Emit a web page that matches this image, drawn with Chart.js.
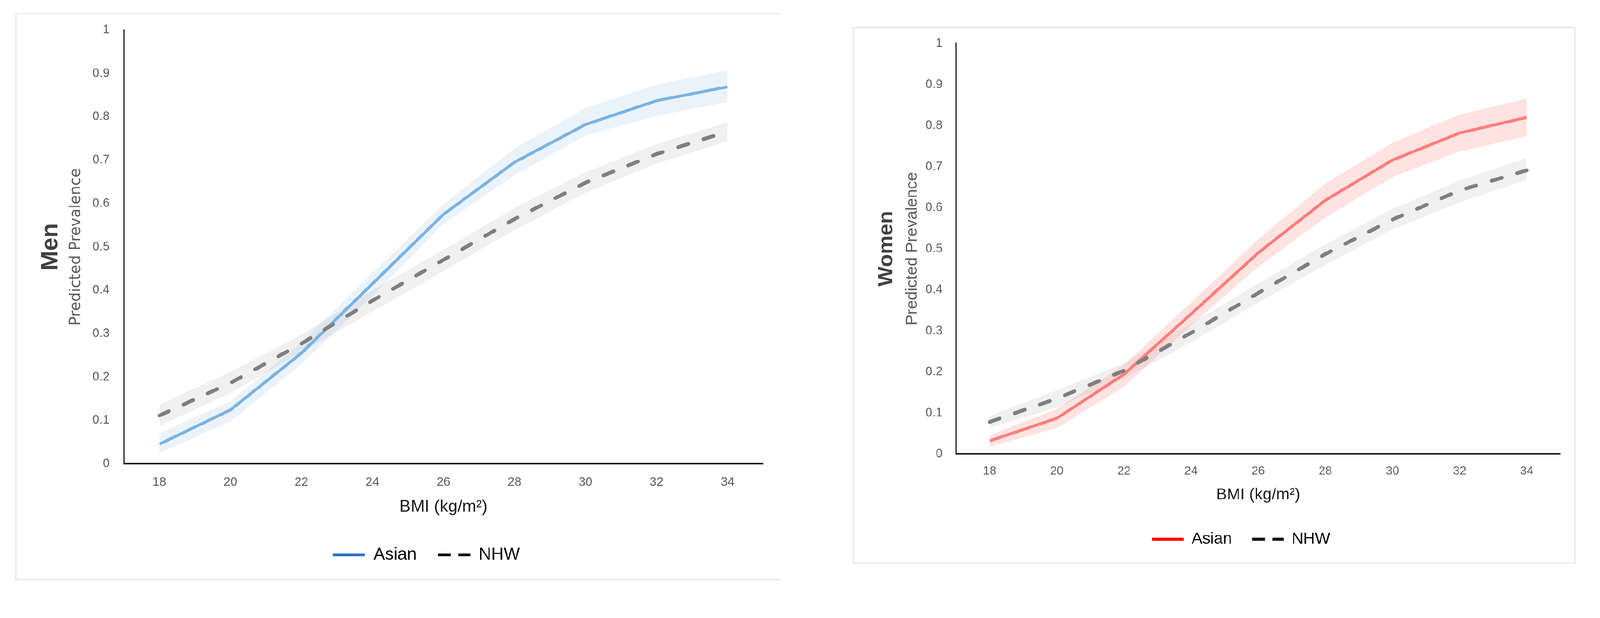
<!DOCTYPE html>
<html>
<head>
<meta charset="utf-8">
<script src="https://cdn.jsdelivr.net/npm/chart.js@4.4.1/dist/chart.umd.min.js"></script>
<style>
  html, body { margin: 0; padding: 0; background: #fff; overflow: hidden; }
  #stage { width: 4271px; height: 1581px; position: absolute; left: 0; top: 0; transform-origin: 0 0; }
  .frame { position: absolute; border: 3px solid #e4e4e4; box-sizing: border-box; }
  #menFrame { left: 41px; top: 35px; width: 2040px; height: 1512px; border-right: none; }
  #womenFrame { left: 2276px; top: 72px; width: 1929px; height: 1432px; }
  canvas { position: absolute; }
  #menChart { left: 42px; top: 36px; }
  #womenChart { left: 2277px; top: 73px; }
</style>
</head>
<body>
<div id="stage">
  <div class="frame" id="menFrame"></div>
  <div class="frame" id="womenFrame"></div>
  <canvas id="menChart" width="2192" height="1477"></canvas>
  <canvas id="womenChart" width="2072" height="1397"></canvas>
</div>
<script>
// categories and tick labels
const bmiLabels = ["18", "20", "22", "24", "26", "28", "30", "32", "34"];
const yTickLabels = ["0", "0.1", "0.2", "0.3", "0.4", "0.5", "0.6", "0.7", "0.8", "0.9", "1"];

// Men
const menAsian      = [0.045, 0.124, 0.255, 0.415, 0.575, 0.695, 0.782, 0.837, 0.869];
const menAsianUpper = [0.070, 0.144, 0.280, 0.440, 0.598, 0.727, 0.820, 0.874, 0.907];
const menAsianLower = [0.025, 0.097, 0.230, 0.387, 0.553, 0.665, 0.757, 0.802, 0.834];
const menNhw        = [0.111, 0.186, 0.277, 0.376, 0.470, 0.564, 0.648, 0.714, 0.766];
const menNhwUpper   = [0.136, 0.212, 0.297, 0.400, 0.493, 0.589, 0.672, 0.737, 0.787];
const menNhwLower   = [0.087, 0.163, 0.257, 0.351, 0.444, 0.539, 0.625, 0.692, 0.744];

// Women
const womenAsian      = [0.032, 0.087, 0.194, 0.341, 0.490, 0.618, 0.716, 0.782, 0.820];
const womenAsianUpper = [0.046, 0.110, 0.217, 0.369, 0.523, 0.659, 0.758, 0.827, 0.866];
const womenAsianLower = [0.018, 0.063, 0.164, 0.313, 0.456, 0.576, 0.675, 0.737, 0.774];
const womenNhw        = [0.078, 0.135, 0.203, 0.295, 0.392, 0.487, 0.571, 0.642, 0.691];
const womenNhwUpper   = [0.093, 0.155, 0.221, 0.318, 0.415, 0.511, 0.597, 0.666, 0.721];
const womenNhwLower   = [0.064, 0.113, 0.184, 0.272, 0.369, 0.461, 0.547, 0.613, 0.668];

// the layout below is in 4271px page units; fit it to whatever the window really is
const k = window.innerWidth / 4271;
document.getElementById("stage").style.transform = "scale(" + k + ")";

const NONE = "rgba(0,0,0,0)";

function band(label, data, color, fill) {
  return { label, data, borderColor: NONE, borderWidth: 0, pointRadius: 0, backgroundColor: color, fill };
}

function makeChart(id, d, s) {
  return new Chart(document.getElementById(id), {
    type: "line",
    data: {
      labels: bmiLabels,
      datasets: [
        // index 0 is drawn last (on top)
        { label: "NHW", data: d.nhw, borderColor: "#7f7f7f", borderWidth: 10, borderDash: [28, 43],
          borderCapStyle: "round", pointRadius: 0, fill: false },
        { label: "Asian", data: d.asian, borderColor: s.asianColor, borderWidth: 8, pointRadius: 0, fill: false },
        band("Asian upper", d.asianUp, s.asianBand, "+1"),
        band("Asian lower", d.asianLo, NONE, false),
        band("NHW upper", d.nhwUp, "rgba(128,128,128,0.12)", "+1"),
        band("NHW lower", d.nhwLo, NONE, false)
      ]
    },
    options: {
      responsive: false,
      animation: false,
      layout: { padding: { top: s.padTop, left: 0, right: 0, bottom: 0 } },
      plugins: {
        tooltip: { enabled: false },
        title: {
          display: true, position: "left", fullSize: false, text: s.title, color: "#404040",
          font: { family: "Liberation Sans", weight: "bold", size: s.titleSize, lineHeight: 1.2 },
          padding: { top: s.titlePad, bottom: 0 }
        },
        legend: {
          position: "bottom",
          labels: {
            usePointStyle: true, pointStyleWidth: s.legendLine, padding: s.legendPad, color: "#000",
            font: { family: "Liberation Sans", size: s.legendSize },
            generateLabels: () => [
              { text: "Asian", strokeStyle: s.legendAsian, fillStyle: s.legendAsian, lineWidth: 8,
                lineDash: [], pointStyle: "line", datasetIndex: 1, hidden: false },
              { text: "NHW", strokeStyle: "#111", fillStyle: "#111", lineWidth: 8,
                lineDash: [34, 20], pointStyle: "line", datasetIndex: 0, hidden: false }
            ]
          }
        }
      },
      scales: {
        x: {
          type: "category", offset: true,
          grid: { display: false, drawTicks: false },
          border: { display: true, color: "#1a1a1a", width: 4 },
          ticks: { color: "#595959", padding: s.xTickPad, maxRotation: 0, autoSkip: false,
                   font: { family: "Liberation Sans", size: s.xTickSize } },
          title: { display: true, text: "BMI (kg/m²)", color: "#1a1a1a",
                   font: { family: "Liberation Sans", size: s.xTitleSize, lineHeight: 1.2 },
                   padding: { top: 0, bottom: s.xTitlePad } },
          afterFit: sc => { sc.height = s.xHeight; }
        },
        y: {
          min: 0, max: 1,
          // gap between labels and axis comes from an undrawn tick length,
          // so ticks.padding does not push the plot top down
          grid: { display: false, drawTicks: true, tickLength: s.yTickGap },
          border: { display: true, color: "#1a1a1a", width: 4 },
          ticks: { stepSize: 0.1, color: "#595959", padding: 0,
                   font: { family: "Liberation Sans", size: 33 },
                   callback: (v, i) => yTickLabels[i] },
          title: { display: true, text: "Predicted Prevalence", color: "#595959",
                   font: { family: s.yTitleFamily, size: s.yTitleSize, lineHeight: 1.2 },
                   padding: { top: s.yTitlePad, bottom: 0 } },
          afterFit: sc => { sc.width = s.yWidth; }
        },
        // empty right-hand axis, only reserves room so the legend sits where it does in the figure
        yPad: {
          position: "right", display: true,
          grid: { display: false, drawTicks: false },
          border: { display: false },
          ticks: { display: false, padding: 0 },
          afterFit: sc => { sc.width = s.rightRoom; }
        }
      }
    }
  });
}

makeChart("menChart",
  { asian: menAsian, asianUp: menAsianUpper, asianLo: menAsianLower,
    nhw: menNhw, nhwUp: menNhwUpper, nhwLo: menNhwLower },
  { title: "Men", titleSize: 63, titlePad: 56, padTop: 44,
    asianColor: "#7ab3e0", asianBand: "rgba(91,155,213,0.12)", legendAsian: "#2b74c9",
    yTitleFamily: "DejaVu Sans", yTitleSize: 40, yTitlePad: 6, yWidth: 157, yTickGap: 38,
    xTickSize: 33, xTickPad: 30, xTitleSize: 45, xTitlePad: 20, xHeight: 163,
    legendSize: 46, legendPad: 57, legendLine: 86, rightRoom: 197 });

makeChart("womenChart",
  { asian: womenAsian, asianUp: womenAsianUpper, asianLo: womenAsianLower,
    nhw: womenNhw, nhwUp: womenNhwUpper, nhwLo: womenNhwLower },
  { title: "Women", titleSize: 56, titlePad: 56, padTop: 43,
    asianColor: "#ff7c7c", asianBand: "rgba(250,128,114,0.22)", legendAsian: "#ff0000",
    yTitleFamily: "Liberation Sans", yTitleSize: 43, yTitlePad: 9, yWidth: 152, yTickGap: 36,
    xTickSize: 32, xTickPad: 27, xTitleSize: 43, xTitlePad: 17, xHeight: 152,
    legendSize: 43, legendPad: 54, legendLine: 84, rightRoom: 184 });
</script>
</body>
</html>
